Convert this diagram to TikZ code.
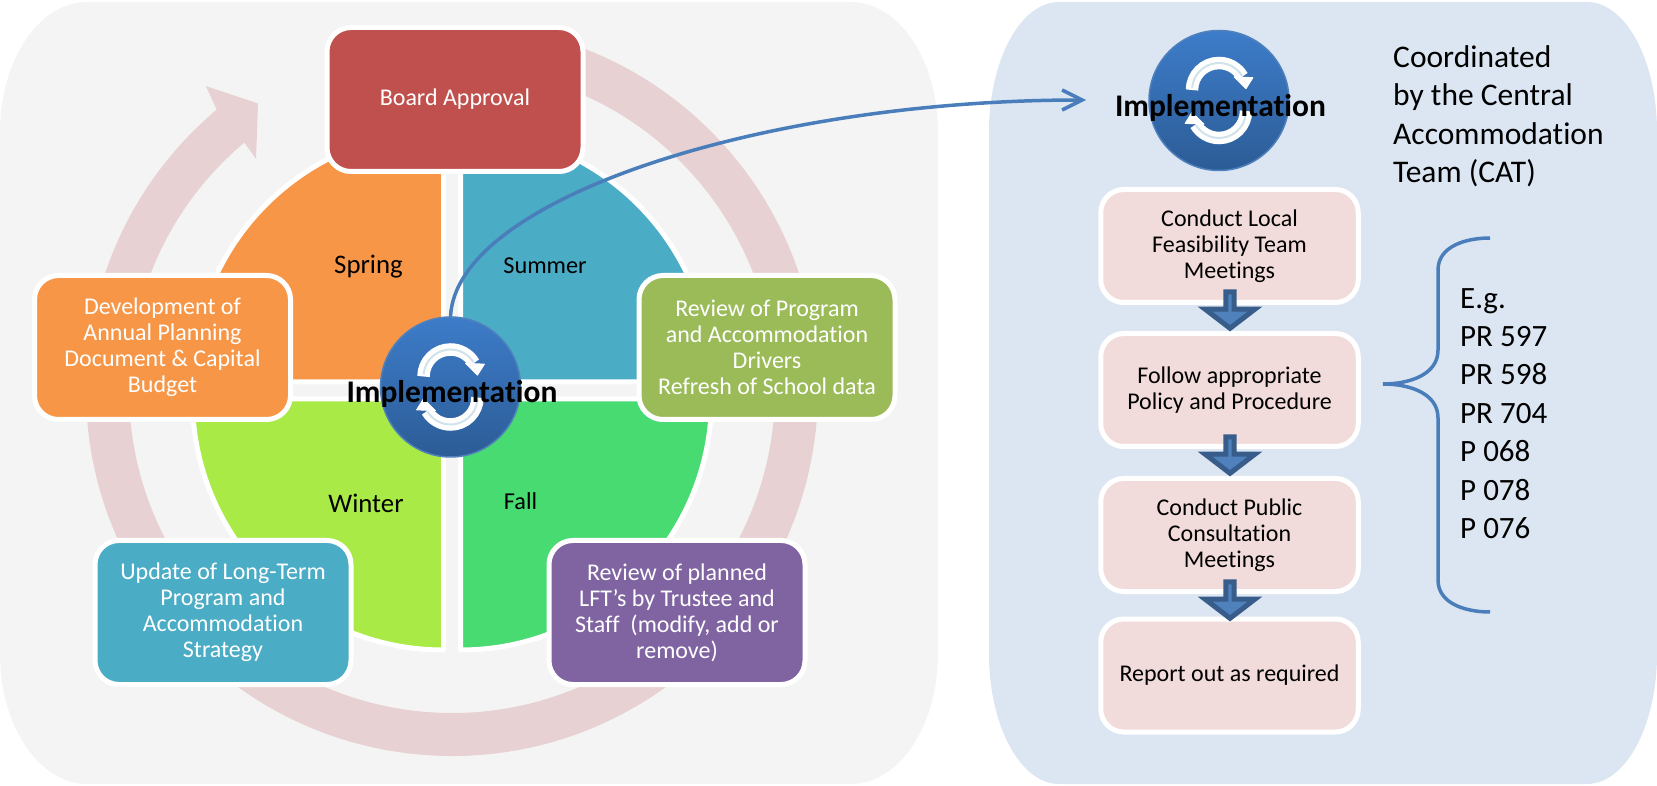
\documentclass[tikz,border=0pt]{standalone}
\usepackage{fontspec}
\setmainfont{Carlito}[Ligatures=NoCommon]
\usepackage{tikz}
\usetikzlibrary{shapes.arrows,arrows.meta}

\definecolor{panelgray}{HTML}{F4F4F4}
\definecolor{panelblue}{HTML}{DCE6F2}
\definecolor{ringpink}{HTML}{E8D1D2}
\definecolor{boardred}{HTML}{C0504D}
\definecolor{springorange}{HTML}{F79646}
\definecolor{summerblue}{HTML}{4BACC6}
\definecolor{wintergreen}{HTML}{AAEA46}
\definecolor{fallgreen}{HTML}{48DB72}
\definecolor{driveolive}{HTML}{9BBB59}
\definecolor{planpurple}{HTML}{8064A2}
\definecolor{stepbg}{HTML}{F2DCDB}
\definecolor{linkblue}{HTML}{4A7EBB}
\definecolor{arrowfill}{HTML}{4F81BD}
\definecolor{arrowedge}{HTML}{385D8A}
\definecolor{iconline}{HTML}{D0E2EA}
\definecolor{arrowblue}{HTML}{3D7CC9}
\definecolor{arrowdeep}{HTML}{2C5C96}

\tikzset{
    x=1pt,y=1pt,
    quadrant/.style={draw=white,line width=5pt,line join=round},
    yearbox/.style={rectangle,rounded corners=24pt,draw=white,line width=5pt,
        minimum width=256pt,minimum height=144pt,text=white,align=center,
        inner sep=0pt,outer sep=0pt,font=\fontsize{24}{26}\selectfont},
    stepbox/.style={rectangle,rounded corners=23pt,fill=stepbg,draw=white,line width=5pt,
        minimum width=257.5pt,minimum height=113pt,align=center,
        inner sep=0pt,outer sep=0pt,font=\fontsize{24}{26}\selectfont},
    season/.style={font=\fontsize{26.8}{30}\selectfont},
    smallseason/.style={font=\fontsize{24.3}{28}\selectfont},
    cyclebtn/.style={circle,top color=arrowblue,bottom color=arrowdeep,draw=arrowfill,
        line width=1.5pt,minimum size=140pt,inner sep=0pt,outer sep=0pt},
    cyclename/.style={font=\bfseries\fontsize{31.5}{36}\selectfont},
    downarrow/.style={single arrow,shape border rotate=270,fill=arrowfill,draw=arrowedge,
        line width=5pt,minimum height=36.5pt,minimum width=50pt,
        single arrow head extend=13pt,single arrow tip angle=105,
        inner sep=0pt,outer sep=0pt},
    bluecurve/.style={draw=linkblue,line width=3.5pt},
    cycleicon/.pic={
        \foreach \r in {0,180} {
            \begin{scope}[rotate=\r,shift={(0,10.5)}]
                \draw[white,line width=12.5pt] (180:27) arc (180:30:27);
                \fill[white,draw=white,line width=1pt,line join=round]
                    (20:36) -- (3:27) -- (41:20) -- cycle;
                \draw[iconline,line width=2pt] (175:27) arc (175:32:27);
            \end{scope}
        }
    }
}

\begin{document}
\begin{tikzpicture}
    \useasboundingbox (0,0) rectangle (1657,785);

    % the two panels
    \fill[panelgray] (0,653) arc[start angle=180,end angle=90,x radius=87,y radius=130]
        -- (851,783) arc[start angle=90,end angle=0,x radius=87,y radius=130]
        -- (938,131) arc[start angle=0,end angle=-90,x radius=87,y radius=130]
        -- (87,1) arc[start angle=-90,end angle=-180,x radius=87,y radius=130] -- cycle;
    \fill[panelblue] (989,653) arc[start angle=180,end angle=90,x radius=70,y radius=130]
        -- (1587,783) arc[start angle=90,end angle=0,x radius=70,y radius=130]
        -- (1657,131) arc[start angle=0,end angle=-90,x radius=70,y radius=130]
        -- (1059,1) arc[start angle=-90,end angle=-180,x radius=70,y radius=130] -- cycle;

    % big circular arrow
    \fill[ringpink,shift={(452,395)}] (85:366) arc (85:-230:366)
        -- (129:391) -- (124.1:346) -- (130.3:303)
        -- (130:323) arc (-230:85:323) -- cycle;

    % the four seasons
    \draw[quadrant,fill=springorange] (443.5,403) -- ++(-251,0) arc (180:90:251) -- cycle;
    \draw[quadrant,fill=summerblue]   (460.5,403) -- ++(251,0) arc (0:90:251) -- cycle;
    \draw[quadrant,fill=wintergreen]  (443.5,386) -- ++(-251,0) arc (180:270:251) -- cycle;
    \draw[quadrant,fill=fallgreen]    (460.5,386) -- ++(251,0) arc (0:-90:251) -- cycle;

    \node[season] (spring) at (368.5,518) {Spring};
    \node[smallseason] (summer) at (545,519) {Summer};
    \node[season] (winter) at (366,282) {Winter};
    \node[smallseason] (fall) at (520.5,284) {Fall};

    % boxes round the year
    \node[yearbox,fill=boardred] (board) at (455,685.5) {Board Approval};
    \node[yearbox,fill=springorange] (annual) at (162.5,437.5)
        {Development of\\Annual Planning\\Document \& Capital\\Budget};
    \node[yearbox,fill=driveolive] (drivers) at (767,437.5)
        {Review of Program\\and Accommodation\\Drivers\\Refresh of School data};
    \node[yearbox,fill=summerblue] (strategy) at (223,172.5)
        {Update of Long-Term\\Program and\\Accommodation\\Strategy};
    \node[yearbox,fill=planpurple] (planned) at (677,172.5)
        {Review of planned\\LFT’s by Trustee and\\Staff\ \ (modify, add or\\remove)};

    % implementation button in the middle
    \node[cyclebtn] (impl) at (450.5,398) {};
    \pic at (impl.center) {cycleicon};
    \node[cyclename] (implname) at (452,391) {Implementation};

    % link over to the right panel
    \coordinate (linkend) at (1086,685);
    \draw[bluecurve,-{Straight Barb[length=20pt,width=20pt]}] (impl.north)
        .. controls (455,585) and (760,685) .. (linkend);

    % right panel
    \node[cyclebtn] (implright) at (1219,684.5) {};
    \pic at (implright.center) {cycleicon};
    \node[cyclename] (implrightname) at (1220.5,677) {Implementation};

    \node[align=left,anchor=north west,inner sep=0pt,font=\fontsize{31.5}{38.4}\selectfont]
        (cat) at (1393,739.5) {Coordinated\\by the Central\\Accommodation\\Team (CAT)};

    \node[stepbox] (stepa) at (1229.5,539) {Conduct Local\\Feasibility Team\\Meetings};
    \node[stepbox] (stepb) at (1229.5,395) {Follow appropriate\\Policy and Procedure};
    \node[stepbox] (stepc) at (1229.5,250) {Conduct Public\\Consultation\\Meetings};
    \node[stepbox] (stepd) at (1229.5,109.5) {Report out as required};

    \node[downarrow] (arrowa) at (1230,476.5) {};
    \node[downarrow] (arrowb) at (1230,331.5) {};
    \node[downarrow] (arrowc) at (1230,186.5) {};

    % brace and list
    \coordinate (bracetop) at (1490,547);
    \coordinate (bracetip) at (1383,401);
    \coordinate (bracelow) at (1490,173);
    \draw[bluecurve]       (bracetop)
        to [out=180,in=90]  (1438,515)
        -- (1438,435)
        to [out=-90,in=0]   (bracetip)
        to [out=0,in=90]    (1438,367)
        -- (1438,205)
        to [out=-90,in=180] (bracelow)
    ;
    \node[align=left,anchor=north west,inner sep=0pt,font=\fontsize{31}{38.4}\selectfont]
        (policies) at (1460,497) {E.g.\\PR 597\\PR 598\\PR 704\\P 068\\P 078\\P 076};
\end{tikzpicture}
\end{document}
